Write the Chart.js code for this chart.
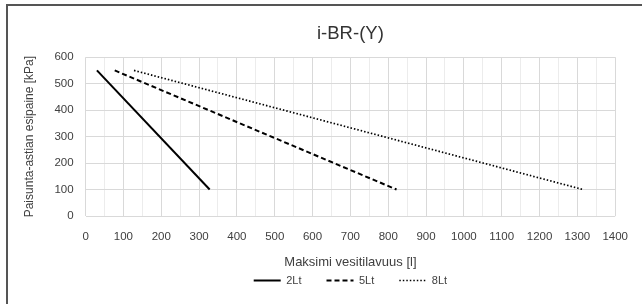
<!DOCTYPE html>
<html>
<head>
<meta charset="utf-8">
<script src="https://cdn.jsdelivr.net/npm/chart.js@4/dist/chart.umd.min.js"></script>
<style>
html,body{margin:0;padding:0;background:#fff;}
#wrap{position:relative;width:642px;height:304px;overflow:hidden;}
#frame{position:absolute;left:6px;top:4px;width:700px;height:400px;border-top:2px solid #555;border-left:2px solid #555;box-sizing:border-box;}
canvas{position:absolute;left:0;top:0;}
</style>
</head>
<body>
<div id="wrap"><div id="frame"></div><canvas id="c" width="642" height="304"></canvas></div>
<script>
const seriesNames = ['2Lt', '5Lt', '8Lt'];
const volume2Lt = [30, 328];
const pressure2Lt = [550, 100];
const volume5Lt = [77, 822];
const pressure5Lt = [550, 100];
const volume8Lt = [128, 1315];
const pressure8Lt = [550, 100];
const chartTitle = 'i-BR-(Y)';
const xTitle = 'Maksimi vesitilavuus [l]';
const yTitle = 'Paisunta-astian esipaine [kPa]';

const toPts = (xs, ys) => xs.map((x, i) => ({x: x, y: ys[i]}));
const font = "'Liberation Sans', Arial, sans-serif";

new Chart(document.getElementById('c'), {
  type: 'scatter',
  data: {
    datasets: [
      {label: seriesNames[0], data: toPts(volume2Lt, pressure2Lt), showLine: true, borderColor: '#000', borderWidth: 2, pointRadius: 0, borderDash: []},
      {label: seriesNames[1], data: toPts(volume5Lt, pressure5Lt), showLine: true, borderColor: '#000', borderWidth: 2, pointRadius: 0, borderDash: [5, 3]},
      {label: seriesNames[2], data: toPts(volume8Lt, pressure8Lt), showLine: true, borderColor: '#000', borderWidth: 1.7, pointRadius: 0, borderDash: [1.5, 2]}
    ]
  },
  options: {
    responsive: false,
    animation: false,
    layout: {padding: {left: 22, right: 24, top: 10, bottom: 8}},
    plugins: {
      title: {display: true, fullSize: false, text: chartTitle, color: '#333', font: {family: font, size: 18.5, weight: 'normal'}, padding: {top: 13, bottom: 12}},
      legend: {
        position: 'bottom', fullSize: false,
        labels: {
          usePointStyle: true, pointStyle: 'line', pointStyleWidth: 27,
          color: '#404040', font: {family: font, size: 11}, padding: 25, boxHeight: 8,
          generateLabels: chart => chart.data.datasets.map((ds, i) => ({
            text: ds.label, datasetIndex: i, pointStyle: 'line',
            strokeStyle: ds.borderColor, fillStyle: ds.borderColor, fontColor: '#404040',
            lineWidth: ds.borderWidth, lineDash: ds.borderDash, hidden: false
          }))
        }
      },
      tooltip: {enabled: false}
    },
    scales: {
      x: {
        type: 'linear', min: 0, max: 1400,
        afterFit: s => { s.height = 34; },
        ticks: {stepSize: 50, autoSkip: false, maxRotation: 0, color: '#404040', font: {family: font, size: 11.5}, padding: 14,
          callback: v => (v % 100 === 0 ? String(v) : '')},
        grid: {color: ctx => (ctx.tick && ctx.tick.value % 100 === 0 ? '#d9d9d9' : '#ececec'), drawTicks: false, lineWidth: 1},
        border: {display: false},
        title: {display: true, text: xTitle, color: '#404040', font: {family: font, size: 13}, padding: {top: 0, bottom: -20}}
      },
      y: {
        min: 0, max: 600,
        ticks: {stepSize: 100, color: '#404040', font: {family: font, size: 11.5}, padding: 12},
        grid: {color: '#d9d9d9', drawTicks: false, lineWidth: 1},
        border: {display: false},
        title: {display: true, text: yTitle, color: '#404040', font: {family: font, size: 12}, padding: {top: 0, bottom: 6}}
      }
    }
  }
});
</script>
</body>
</html>
